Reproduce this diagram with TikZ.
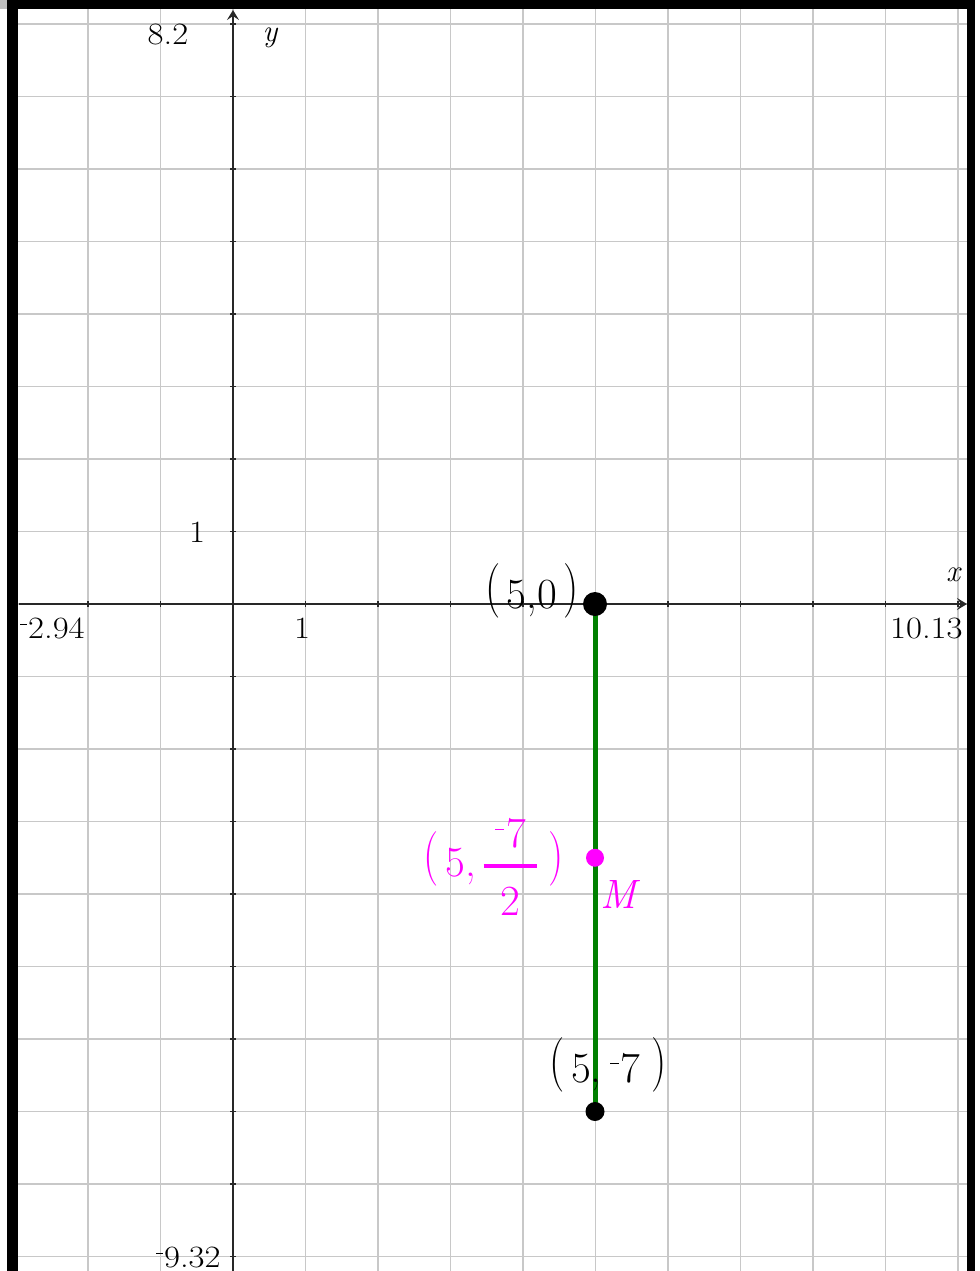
\documentclass[tikz,border=0pt]{standalone}
\usepackage{fontspec}
\usepackage{amsmath}
\usepackage{graphicx}
\usetikzlibrary{arrows.meta}
\newfontfamily\tickfont{Latin Modern Roman}[FakeStretch=1.12]
\definecolor{gridgray}{RGB}{200,200,200}
\definecolor{axisgray}{RGB}{40,40,40}
\definecolor{segGreen}{RGB}{0,128,0}
\definecolor{magpt}{RGB}{255,0,255}
\newcommand{\negs}{\raisebox{0.41em}{\rule{0.2em}{0.038em}}\kern0.05em}
\newcommand{\bpl}{\raisebox{0.08em}{\scalebox{1}[1.27]{(}}\kern0.15em}
\newcommand{\bpr}{\kern0.15em\raisebox{0.08em}{\scalebox{1}[1.27]{)}}}
\begin{document}
\begin{tikzpicture}[x=0.5pt,y=-0.5pt,
  gridline/.style={draw=gridgray,line width=0.75pt},
  axisline/.style={draw=axisgray,line width=0.75pt,-{Stealth[length=5pt,width=6pt,inset=2pt]}},
  tickmark/.style={draw=axisgray,line width=0.6pt},
  ticklabel/.style={inner sep=0pt,font=\fontsize{15.5}{18}\tickfont},
  axlabel/.style={inner sep=0pt,font=\fontsize{15.5}{18}\selectfont\itshape},
  coordlabel/.style={inner sep=0pt,font=\fontsize{21.5}{26}\selectfont},
  bigdot/.style={circle,fill=black,inner sep=0pt,minimum size=12pt},
  smalldot/.style={circle,fill=black,inner sep=0pt,minimum size=9.5pt},
  middot/.style={circle,fill=magpt,inner sep=0pt,minimum size=9pt},
  segment/.style={draw=segGreen,line width=2.5pt},
  framebar/.style={fill=black}]
\useasboundingbox (0,0) rectangle (980,1271);
% grid
\begin{scope}
\clip (18,9) rectangle (967,1271);
\foreach \k in {-2,...,10} \draw[gridline] ({233+72.5*\k},9) -- ({233+72.5*\k},1271);
\foreach \k in {-9,...,8} \draw[gridline] (18,{604-72.5*\k}) -- (967,{604-72.5*\k});
\end{scope}
% axes
\coordinate (xL) at (19,604);
\coordinate (xR) at (967,604);
\coordinate (yB) at (233,1271);
\coordinate (yT) at (233,10);
\draw[axisline] (xL) -- (xR);
\draw[axisline] (yB) -- (yT);
\foreach \k in {-2,...,10} \draw[tickmark] ({233+72.5*\k},601) -- ({233+72.5*\k},607);
\foreach \k in {-9,...,8} \draw[tickmark] (230,{604-72.5*\k}) -- (236,{604-72.5*\k});
% segment and points
\coordinate (P) at (595,604);
\coordinate (Q) at (595,1111.5);
\coordinate (Mp) at (595,857.75);
\draw[segment] (P) -- (Q);
\node[bigdot] (Pdot) at (P) {};
\node[smalldot] (Qdot) at (Q) {};
\node[middot] (Mdot) at (Mp) {};
% frame
\fill[black!25] (0,0) rectangle (7,9);
\fill[framebar] (7,0) rectangle (18,1271);
\fill[framebar] (7,0) rectangle (975,9);
\fill[framebar] (967,0) rectangle (975,1271);
% labels
\node[ticklabel,anchor=base] (ytop) at (168,44) {8.2};
\node[axlabel,anchor=base] (ylab) at (270,41) {y};
\node[ticklabel,anchor=base] (yone) at (197,542) {1};
\node[ticklabel,anchor=base] (xone) at (302,638) {1};
\node[ticklabel,anchor=base west] (xmin) at (20,638) {\negs2.94};
\node[ticklabel,anchor=base east] (xmax) at (963,638) {10.13};
\node[ticklabel,anchor=base east] (ymin) at (221,1267) {\negs9.32};
\node[axlabel,anchor=base] (xlab) at (953,581) {x};
\node[coordlabel,anchor=base east] (Plab) at (579,608) {\bpl5,0\bpr};
\node[coordlabel,anchor=base] (Qlab) at (608,1082) {\bpl5,\kern0.2em\negs7\kern0.1em\bpr};
\node[coordlabel,anchor=base east,text=magpt] (Mlab) at (564,876)
  {\bpl5,\kern0.12em$\genfrac{}{}{2pt}{0}{\mbox{\hspace{0.27em}\negs7\hspace{0.27em}}}{\raisebox{-5.5pt}{2}}$\kern0.05em\bpr};
\node[inner sep=0pt,anchor=base,text=magpt,font=\fontsize{20.5}{24}\selectfont\itshape] (Mname) at (618,908) {M};
\end{tikzpicture}
\end{document}
